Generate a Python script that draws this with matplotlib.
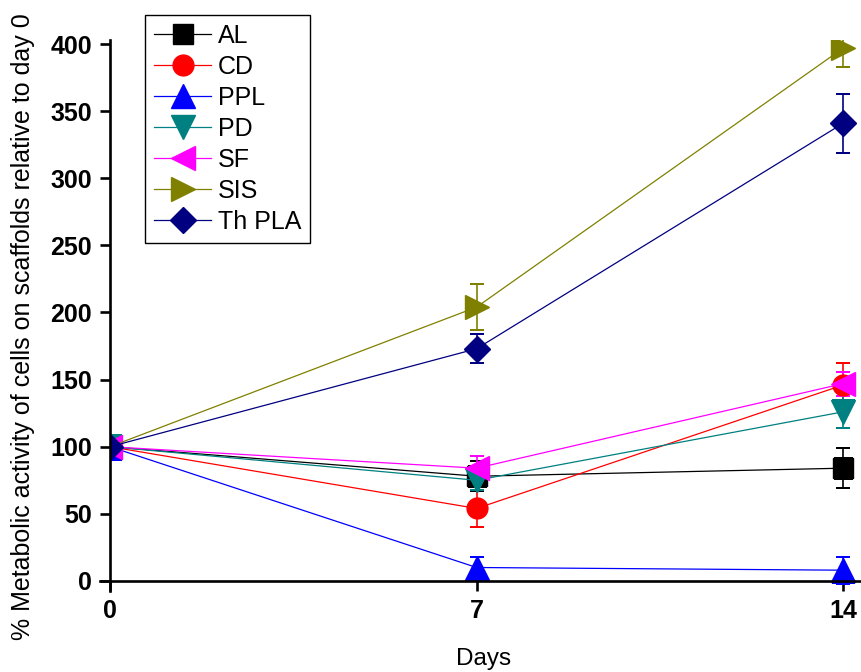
import matplotlib
matplotlib.use("Agg")
import matplotlib.pyplot as plt
from matplotlib.patches import Polygon

days = [0, 7, 14]
series_names = ["AL", "CD", "PPL", "PD", "SF", "SIS", "Th PLA"]
al = [100, 78, 84]
al_err = [0, 11, 15]
cd = [100, 54, 146]
cd_err = [0, 14, 16]
ppl = [100, 10, 8]
ppl_err = [0, 8, 10]
pd_ = [100, 75, 126]
pd_err = [0, 7, 12]
sf = [100, 84, 147]
sf_err = [0, 9, 9]
sis = [100, 204, 397]
sis_err = [0, 17, 14]
thpla = [100, 173, 341]
thpla_err = [0, 11, 22]
y_ticks = [0, 50, 100, 150, 200, 250, 300, 350, 400]
x_ticks = [0, 7, 14]

values = [al, cd, ppl, pd_, sf, sis, thpla]
errors = [al_err, cd_err, ppl_err, pd_err, sf_err, sis_err, thpla_err]
colors = ["#000000", "#FF0000", "#0000FF", "#008080", "#FF00FF", "#808000", "#000080"]
markers = ["s", "o", "^", "v", "<", ">", "D"]
msizes = [13.7, 15, 17, 17, 17, 17, 13.6]

plt.rcParams['font.family'] = ['Liberation Sans', 'DejaVu Sans']

fig = plt.figure(figsize=(8.61, 6.72), dpi=100)
W, H = 861, 672
ax = fig.add_axes([100 / W, 1 - 591 / H, 760 / W, 551 / H])
ax.set_xlim(-0.19, 14.32)
ax.set_ylim(-7.5, 403)

clip = Polygon([(0, -7.5), (20, -7.5), (20, 403), (0, 403)], closed=True,
               transform=ax.transData, facecolor='none', edgecolor='none')

handles = []
for name, v, e, c, m, ms in zip(series_names, values, errors, colors, markers, msizes):
    cont = ax.errorbar(days, v, yerr=e, color=c, marker=m, markersize=ms,
                       markeredgecolor=c, markerfacecolor=c, linewidth=0.9,
                       elinewidth=1.2, capsize=5, capthick=1.2, label=name)
    line, caps, bars = cont
    for art in [line, *caps, *bars]:
        art.set_clip_path(clip)
    handles.append(line)

for s in ['top', 'right']:
    ax.spines[s].set_visible(False)
ax.spines['left'].set_position(('data', 0))
ax.spines['bottom'].set_position(('data', 0))
for s in ['left', 'bottom']:
    ax.spines[s].set_linewidth(1.9)

ax.set_xticks(x_ticks)
ax.set_yticks(y_ticks)
ax.tick_params(axis='both', direction='out', length=7, width=1.9, labelsize=18, pad=6)
for lab in ax.get_xticklabels() + ax.get_yticklabels():
    lab.set_fontweight('bold')

ax.set_xlabel("Days", fontsize=17.5, va='baseline')
ax.xaxis.set_label_coords((484 - 100) / 760, (591 - 665) / 551)
ax.set_ylabel("% Metabolic activity of cells on scaffolds relative to day 0",
              fontsize=18, va='center')
ax.yaxis.set_label_coords((23 - 100) / 760, (591 - 327) / 551)

leg = fig.legend(handles=handles, labels=series_names, loc='upper left',
                 bbox_to_anchor=(145 / W, 1 - 15 / H), fontsize=18,
                 frameon=True, fancybox=False, edgecolor='black', framealpha=1,
                 handlelength=2.3, handletextpad=0.25, labelspacing=0.28,
                 borderpad=0.35, borderaxespad=0)
leg.get_frame().set_linewidth(1.0)

fig.savefig("out.png", dpi=100)
